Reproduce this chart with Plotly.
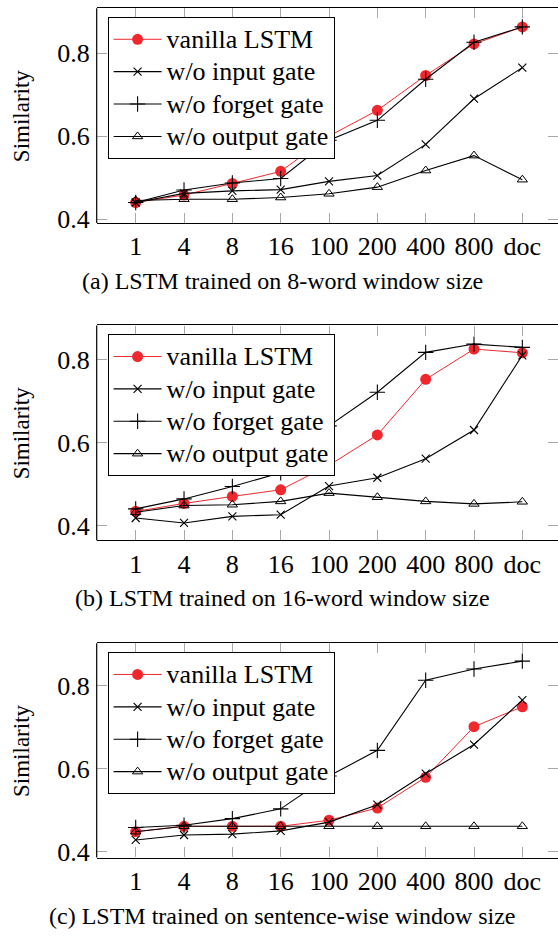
import plotly.graph_objects as go

W, H = 558, 939

categories = ["1", "4", "8", "16", "100", "200", "400", "800", "doc"]
series_names = ["vanilla LSTM", "w/o input gate", "w/o forget gate", "w/o output gate"]

a_vanilla = [0.440, 0.458, 0.486, 0.515, 0.600, 0.662, 0.746, 0.822, 0.863]
a_input = [0.440, 0.462, 0.468, 0.471, 0.491, 0.505, 0.580, 0.690, 0.765]
a_forget = [0.440, 0.470, 0.487, 0.498, 0.590, 0.638, 0.737, 0.826, 0.863]
a_output = [0.445, 0.448, 0.448, 0.452, 0.461, 0.477, 0.517, 0.553, 0.495]

b_vanilla = [0.434, 0.453, 0.470, 0.486, 0.545, 0.618, 0.752, 0.825, 0.816]
b_input = [0.418, 0.406, 0.422, 0.426, 0.495, 0.515, 0.561, 0.630, 0.810]
b_forget = [0.440, 0.464, 0.494, 0.527, 0.640, 0.721, 0.817, 0.837, 0.829]
b_output = [0.432, 0.448, 0.450, 0.458, 0.478, 0.468, 0.458, 0.452, 0.457]

c_vanilla = [0.448, 0.461, 0.461, 0.461, 0.4755, 0.505, 0.579, 0.701, 0.749]
c_input = [0.428, 0.440, 0.442, 0.450, 0.471, 0.513, 0.588, 0.658, 0.765]
c_forget = [0.458, 0.4636, 0.4795, 0.503, 0.582, 0.644, 0.813, 0.840, 0.859]
c_output = [0.448, 0.461, 0.461, 0.461, 0.461, 0.461, 0.461, 0.461, 0.461]

y_tickvals = [0.4, 0.6, 0.8]
y_ticktext = ["0.4", "0.6", "0.8"]
y_title = "Similarity"
captions = [
    "(a) LSTM trained on 8-word window size",
    "(b) LSTM trained on 16-word window size",
    "(c) LSTM trained on sentence-wise window size",
]

panels = [
    [a_vanilla, a_input, a_forget, a_output],
    [b_vanilla, b_input, b_forget, b_output],
    [c_vanilla, c_input, c_forget, c_output],
]

# layout geometry (pixels)
FONT = "Liberation Serif, Times New Roman, serif"
RED = "rgb(240,40,45)"
plot_left = 96.7
panel_px = [(8.3, 225.7), (329.3, 546.7), (651.0, 867.7)]
y_ranges = [(0.3905, 0.9081), (0.3643, 0.8819), (0.3857, 0.9017)]
legend_top_px = [17.3, 338.3, 660.0]
legend_left_px = 107.6
caption_y_px = [284.5, 605.0, 926.5]
x_range = (-0.807, 8.738)

styles = [
    dict(line=dict(color=RED, width=1.0),
         marker=dict(symbol="circle", size=11, color=RED, line=dict(width=0))),
    dict(line=dict(color="black", width=1.1),
         marker=dict(symbol="x-thin", size=8, color="black", line=dict(width=1.1, color="black"))),
    dict(line=dict(color="black", width=1.1),
         marker=dict(symbol="cross-thin", size=11, color="black", line=dict(width=1.1, color="black"))),
    dict(line=dict(color="black", width=1.1),
         marker=dict(symbol="triangle-up-open", size=9, color="black", line=dict(width=1.0, color="black"))),
]

fig = go.Figure()
layout = dict(
    width=W, height=H,
    margin=dict(l=0, r=0, t=0, b=0),
    paper_bgcolor="white", plot_bgcolor="white",
    font=dict(family=FONT, size=26, color="black"),
    showlegend=True,
)
annotations = []
shapes = []

for p, (data, (top, bot), yr) in enumerate(zip(panels, panel_px, y_ranges)):
    sfx = "" if p == 0 else str(p + 1)
    xa, ya = "x" + sfx, "y" + sfx
    leg = "legend" + sfx
    for name, vals, st in zip(series_names, data, styles):
        fig.add_trace(go.Scatter(
            x=categories, y=vals, mode="lines+markers",
            name='<span style="font-size:26px">' + name + "</span>",
            line=st["line"], marker=st["marker"],
            xaxis=xa, yaxis=ya, legend=leg, showlegend=True,
        ))
    ydom = [1 - bot / H, 1 - top / H]
    layout["xaxis" + sfx] = dict(
        domain=[plot_left / W, 1], anchor=ya, type="category",
        range=list(x_range), showgrid=False, zeroline=False,
        showline=True, linecolor="black", linewidth=1.2, mirror="ticks",
        ticks="inside", ticklen=10, tickcolor="#a8a8a8", tickwidth=1,
        tickfont=dict(family=FONT, size=26, color="black"),
    )
    layout["yaxis" + sfx] = dict(
        domain=ydom, anchor=xa, range=list(yr),
        tickvals=y_tickvals, ticktext=y_ticktext,
        showgrid=False, zeroline=False,
        showline=False, mirror="ticks",
        ticks="inside", ticklen=10, tickcolor="#a8a8a8", tickwidth=1,
        tickfont=dict(family=FONT, size=26, color="black"),
        ticklabelstandoff=6,
    )
    shapes.append(dict(type="line", xref="paper", yref="paper",
                       x0=plot_left / W, x1=plot_left / W, y0=ydom[0], y1=ydom[1],
                       line=dict(color="black", width=1.2)))
    layout[leg] = dict(
        x=legend_left_px / W, y=1 - legend_top_px[p] / H,
        xanchor="left", yanchor="top", xref="paper", yref="paper",
        bgcolor="white", bordercolor="black", borderwidth=1,
        font=dict(family=FONT, size=22.6, color="black"),
        itemwidth=48, tracegroupgap=0,
    )
    annotations.append(dict(
        text=y_title, textangle=-90, x=21.5 / W, y=(ydom[0] + ydom[1]) / 2,
        xref="paper", yref="paper", showarrow=False, xanchor="center", yanchor="middle",
        font=dict(family=FONT, size=23, color="black"),
    ))
    annotations.append(dict(
        text=captions[p], x=282 / W, y=1 - caption_y_px[p] / H,
        xref="paper", yref="paper", showarrow=False, xanchor="center", yanchor="middle",
        font=dict(family=FONT, size=24, color="black"),
    ))

layout["annotations"] = annotations
layout["shapes"] = shapes
fig.update_layout(**layout)
fig.write_html(
    "out.html",
    config={"displayModeBar": False},
    post_script="document.body.style.margin='0';document.body.style.overflow='hidden';",
)
